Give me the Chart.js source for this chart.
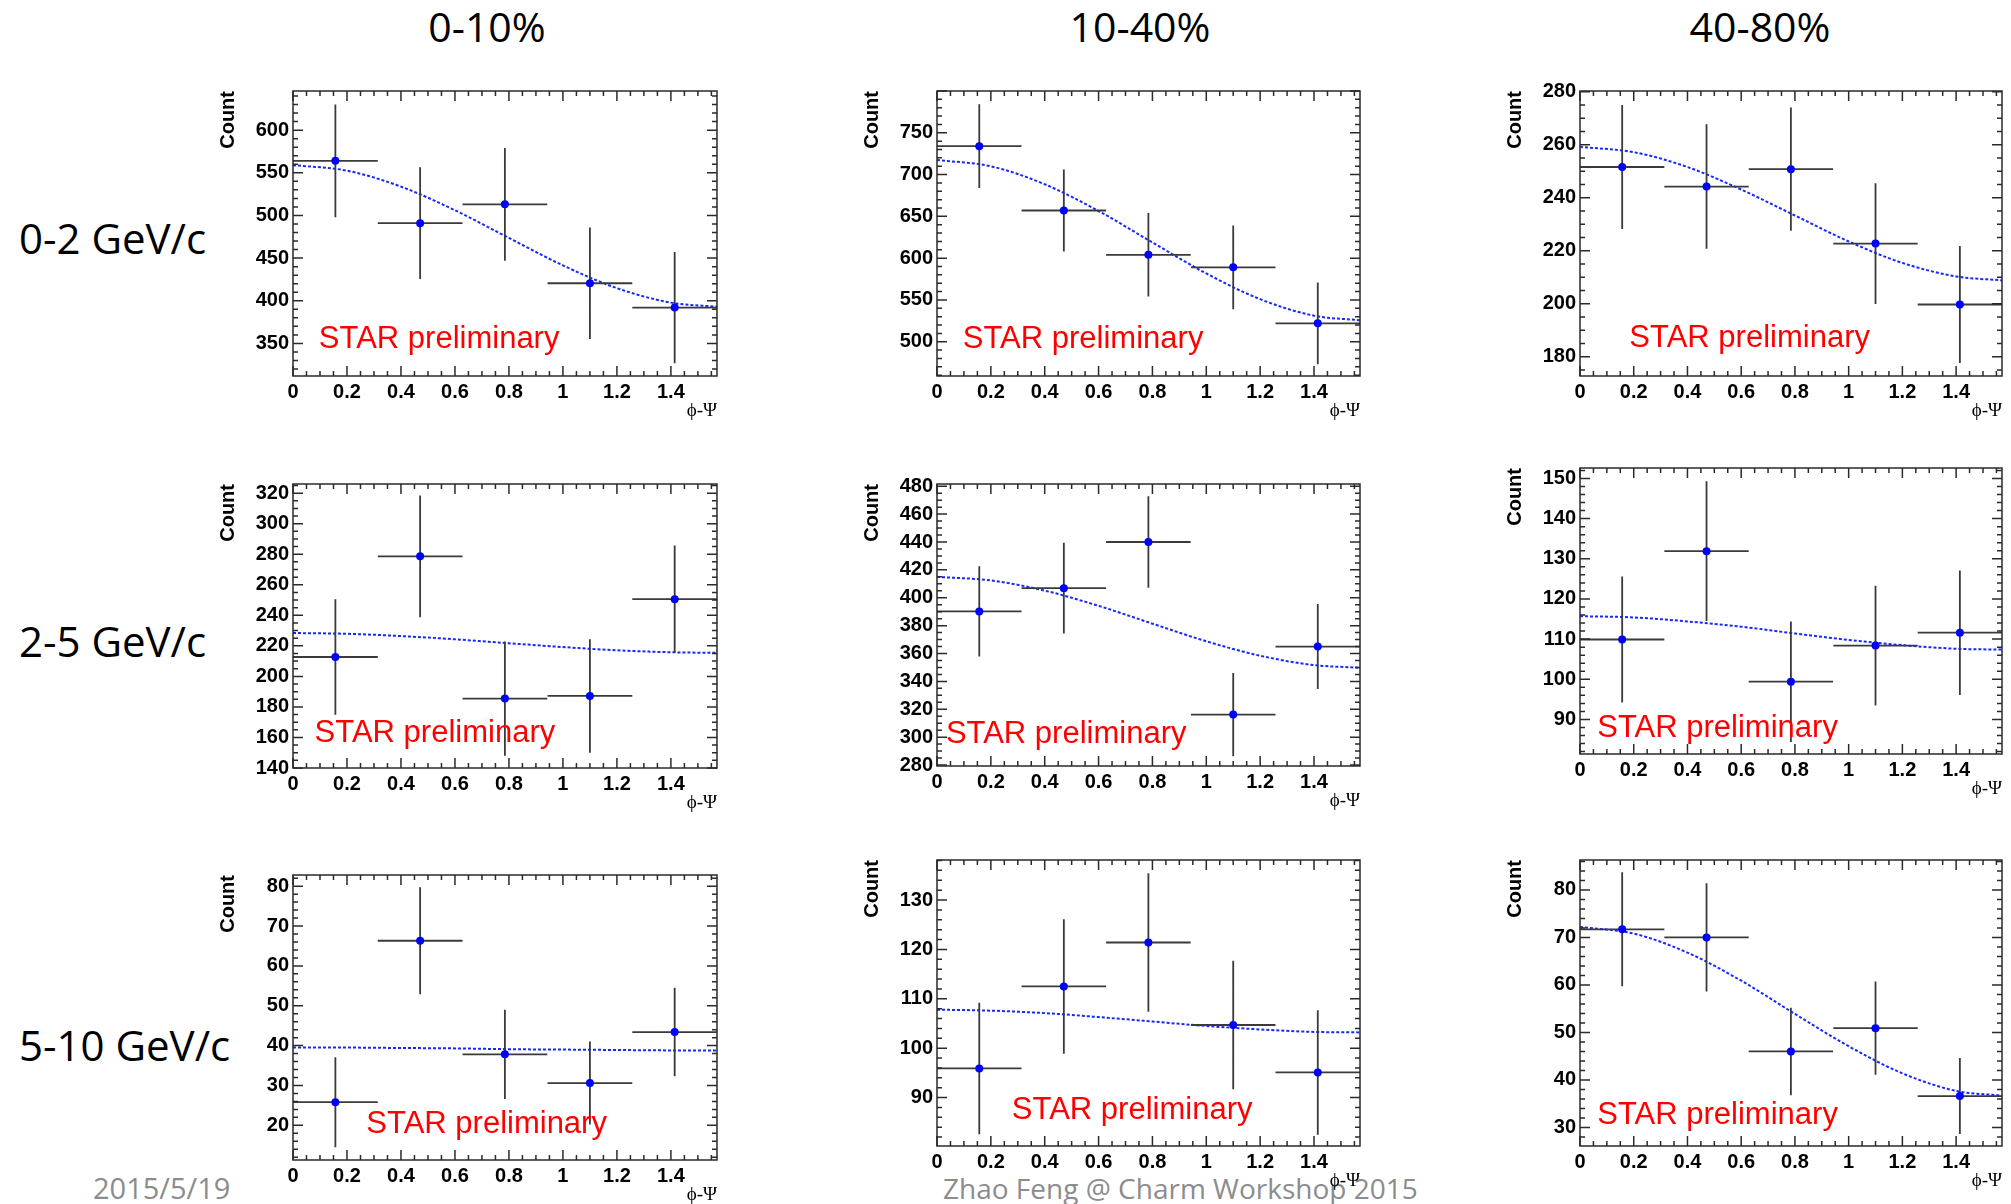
<!DOCTYPE html>
<html>
<head>
<meta charset="utf-8">
<script src="https://cdn.jsdelivr.net/npm/chart.js@4.4.1/dist/chart.umd.min.js"></script>
<style>
  body { margin: 0; width: 2011px; height: 1204px; background: #fff; overflow: hidden; position: relative; font-family: "Open Sans", sans-serif; }
  .col-title { position: absolute; top: 0; font-size: 41px; line-height: 52px; transform: translateX(-50%); white-space: nowrap; }
  .row-title { position: absolute; left: 19px; font-size: 42px; line-height: 52px; white-space: nowrap; }
  .footer { position: absolute; top: 1168px; line-height: 40px; color: #8c8c8c; white-space: nowrap; }
  canvas { position: absolute; }
</style>
</head>
<body>
<div id="page"></div>
<script>
// ---- data ----
const centralities = ["0-10%", "10-40%", "40-80%"];
const ptBins = ["0-2 GeV/c", "2-5 GeV/c", "5-10 GeV/c"];
const phiCenters = [0.157, 0.471, 0.785, 1.100, 1.414];
const phiHalfBin = 0.157;
const phiMax = 1.5708;
const phiTicks = [0, 0.2, 0.4, 0.6, 0.8, 1.0, 1.2, 1.4];
const fitPhi = [0, 0.2, 0.4, 0.6, 0.8, 1.0, 1.2, 1.4, 1.5708];

// pT 0-2 GeV/c
const counts_pt02_c0010 = [564, 491, 513, 420.5, 392];
const errs_pt02_c0010 = [66, 65.5, 66, 65.4, 65.2];
const fit_pt02_c0010 = [559, 552.5, 533.8, 506.1, 473.6, 441.5, 414.8, 397.8, 393];
const yTicks_pt02_c0010 = [350, 400, 450, 500, 550, 600];

const counts_pt02_c1040 = [734, 657, 604, 589, 522];
const errs_pt02_c1040 = [50, 49, 50, 50, 49];
const fit_pt02_c1040 = [717.5, 709.9, 688.4, 656.4, 618.8, 581.7, 550.9, 531.2, 525.7];
const yTicks_pt02_c1040 = [500, 550, 600, 650, 700, 750];

const counts_pt02_c4080 = [251.6, 244.2, 250.8, 222.7, 199.7];
const errs_pt02_c4080 = [23.4, 23.5, 23.3, 22.8, 22.1];
const fit_pt02_c4080 = [259.2, 257.2, 251.6, 243.1, 233.3, 223.5, 215.4, 210.3, 208.8];
const yTicks_pt02_c4080 = [180, 200, 220, 240, 260, 280];

// pT 2-5 GeV/c
const counts_pt25_c0010 = [212.7, 278.6, 185.5, 187.2, 250.6];
const errs_pt25_c0010 = [37.8, 39.8, 37.4, 37.2, 35.2];
const fit_pt25_c0010 = [228.4, 227.9, 226.4, 224.3, 221.7, 219.2, 217.1, 215.8, 215.4];
const yTicks_pt25_c0010 = [140, 160, 180, 200, 220, 240, 260, 280, 300, 320];

const counts_pt25_c1040 = [390.2, 406.9, 440, 316.2, 365];
const errs_pt25_c1040 = [32.4, 32.6, 32.9, 29.9, 30.5];
const fit_pt25_c1040 = [415, 412.4, 405.1, 394.2, 381.4, 368.8, 358.4, 351.7, 349.8];
const yTicks_pt25_c1040 = [280, 300, 320, 340, 360, 380, 400, 420, 440, 460, 480];

const counts_pt25_c4080 = [109.9, 131.9, 99.4, 108.4, 111.6];
const errs_pt25_c4080 = [15.7, 17.4, 15, 14.9, 15.5];
const fit_pt25_c4080 = [115.7, 115.4, 114.4, 113.1, 111.4, 109.8, 108.5, 107.6, 107.4];
const yTicks_pt25_c4080 = [90, 100, 110, 120, 130, 140, 150];

// pT 5-10 GeV/c
const counts_pt510_c0010 = [25.8, 66.3, 37.8, 30.6, 43.4];
const errs_pt510_c0010 = [11.3, 13.4, 11.2, 10.4, 11.1];
const fit_pt510_c0010 = [39.5, 39.5, 39.4, 39.3, 39.1, 39.0, 38.9, 38.8, 38.8];
const yTicks_pt510_c0010 = [20, 30, 40, 50, 60, 70, 80];

const counts_pt510_c1040 = [95.9, 112.5, 121.4, 104.7, 95.1];
const errs_pt510_c1040 = [13.3, 13.6, 14, 13, 12.6];
const fit_pt510_c1040 = [107.8, 107.6, 107.1, 106.3, 105.4, 104.5, 103.8, 103.3, 103.2];
const yTicks_pt510_c1040 = [90, 100, 110, 120, 130];

const counts_pt510_c4080 = [71.7, 70, 46, 50.9, 36.6];
const errs_pt510_c4080 = [12, 11.4, 9.2, 9.8, 8];
const fit_pt510_c4080 = [72.2, 70.8, 66.8, 60.9, 53.9, 47.1, 41.4, 37.7, 36.7];
const yTicks_pt510_c4080 = [30, 40, 50, 60, 70, 80];

const yMins = [311.8, 459, 172.7, 140, 279.3, 81.4, 11.3, 80.2, 26.1];
const yMaxs = [645.9, 800, 280.3, 326, 481.6, 152.6, 82.8, 138.1, 86.3];

// ---- layout (not data) ----
// plot frame [left, top, width, height] in page pixels
const frames = [
  [293, 90, 424, 286], [937, 90, 423, 286], [1580, 90, 422, 286],
  [293, 483, 424, 285], [937, 483, 423, 283], [1580, 467, 422, 287],
  [293, 874, 424, 286], [937, 859, 423, 287], [1580, 859, 422, 287]
];
// "STAR preliminary" position as fraction of plot area (left, baseline)
const labelSpots = [
  [0.061, 0.902], [0.061, 0.901], [0.117, 0.897],
  [0.051, 0.908], [0.021, 0.918], [0.041, 0.942],
  [0.173, 0.907], [0.177, 0.907], [0.041, 0.923]
];
const yMinorDiv = [5, 5, 4, 4, 4, 5, 5, 5, 5];

const panels = [
  [counts_pt02_c0010, errs_pt02_c0010, fit_pt02_c0010, yTicks_pt02_c0010],
  [counts_pt02_c1040, errs_pt02_c1040, fit_pt02_c1040, yTicks_pt02_c1040],
  [counts_pt02_c4080, errs_pt02_c4080, fit_pt02_c4080, yTicks_pt02_c4080],
  [counts_pt25_c0010, errs_pt25_c0010, fit_pt25_c0010, yTicks_pt25_c0010],
  [counts_pt25_c1040, errs_pt25_c1040, fit_pt25_c1040, yTicks_pt25_c1040],
  [counts_pt25_c4080, errs_pt25_c4080, fit_pt25_c4080, yTicks_pt25_c4080],
  [counts_pt510_c0010, errs_pt510_c0010, fit_pt510_c0010, yTicks_pt510_c0010],
  [counts_pt510_c1040, errs_pt510_c1040, fit_pt510_c1040, yTicks_pt510_c1040],
  [counts_pt510_c4080, errs_pt510_c4080, fit_pt510_c4080, yTicks_pt510_c4080]
];

const page = document.getElementById("page");
const colCenters = [487, 1140, 1760];
const rowCenters = [238, 641, 1045];

centralities.forEach((c, i) => {
  const d = document.createElement("div");
  d.className = "col-title";
  d.style.left = colCenters[i] + "px";
  d.textContent = c;
  page.appendChild(d);
});
ptBins.forEach((p, i) => {
  const d = document.createElement("div");
  d.className = "row-title";
  d.style.top = (rowCenters[i] - 26) + "px";
  d.textContent = p;
  page.appendChild(d);
});
[["2015/5/19", 93, 29], ["Zhao Feng @ Charm Workshop 2015", 943, 28]].forEach(([t, x, fs]) => {
  const d = document.createElement("div");
  d.className = "footer";
  d.style.left = x + "px";
  d.style.fontSize = fs + "px";
  d.textContent = t;
  page.appendChild(d);
});

// ROOT-like frame with inward ticks on all four sides + the red label
const rootFrame = {
  id: "rootFrame",
  afterDraw(chart, args, opts) {
    const { ctx, chartArea: a, scales: { x, y } } = chart;
    ctx.save();
    ctx.strokeStyle = "#2a2a2a";
    ctx.lineWidth = 1.5;
    ctx.strokeRect(a.left, a.top, a.right - a.left, a.bottom - a.top);

    ctx.beginPath();
    // x ticks every 0.05, major every 0.2
    for (let k = 0; k * 0.05 <= phiMax + 1e-9; k++) {
      const px = x.getPixelForValue(k * 0.05);
      const len = k % 4 === 0 ? 10 : 5;
      ctx.moveTo(px, a.bottom); ctx.lineTo(px, a.bottom - len);
      ctx.moveTo(px, a.top); ctx.lineTo(px, a.top + len);
    }
    // y ticks
    const t = opts.yTicks;
    const step = t[1] - t[0];
    const sub = step / opts.minorDiv;
    let v = t[0] - Math.floor((t[0] - y.min) / sub + 1e-9) * sub;
    for (; v <= y.max + 1e-9; v += sub) {
      const py = y.getPixelForValue(v);
      const r = (v - t[0]) / step;
      const len = Math.abs(r - Math.round(r)) < 1e-6 ? 10 : 5;
      ctx.moveTo(a.left, py); ctx.lineTo(a.left + len, py);
      ctx.moveTo(a.right, py); ctx.lineTo(a.right - len, py);
    }
    ctx.stroke();
    ctx.restore();
  },
  afterDatasetsDraw(chart, args, opts) {
    const { ctx, chartArea: a } = chart;
    ctx.save();
    ctx.fillStyle = "#ff0000";
    ctx.font = '31px "Liberation Sans", Arial, sans-serif';
    ctx.textBaseline = "alphabetic";
    ctx.fillText("STAR preliminary",
      a.left + opts.spot[0] * (a.right - a.left),
      a.top + opts.spot[1] * (a.bottom - a.top));
    ctx.restore();
  }
};

function errorBarData(counts, errs) {
  const pts = [];
  phiCenters.forEach((xc, i) => {
    pts.push({ x: xc, y: counts[i] - errs[i] }, { x: xc, y: counts[i] + errs[i] }, { x: xc, y: null });
    pts.push({ x: xc - phiHalfBin, y: counts[i] }, { x: xc + phiHalfBin, y: counts[i] }, { x: xc, y: null });
  });
  return pts;
}

const tickFont = { family: '"Liberation Sans", Arial, sans-serif', size: 20, weight: "bold" };

panels.forEach(([counts, errs, fit, yTicks], i) => {
  const [fl, ft, fw, fh] = frames[i];
  const cv = document.createElement("canvas");
  cv.width = fw + 110;
  cv.height = fh + 65;
  cv.style.left = (fl - 90) + "px";
  cv.style.top = (ft - 15) + "px";
  page.appendChild(cv);

  new Chart(cv.getContext("2d"), {
    type: "scatter",
    data: {
      datasets: [
        {
          data: phiCenters.map((xc, k) => ({ x: xc, y: counts[k] })),
          pointRadius: 4,
          pointBackgroundColor: "#0000ff",
          pointBorderWidth: 0,
          order: 0
        },
        {
          data: errorBarData(counts, errs),
          showLine: true,
          spanGaps: false,
          borderColor: "#3a3a3a",
          borderWidth: 1.8,
          pointRadius: 0,
          order: 1
        },
        {
          data: fitPhi.map((xv, k) => ({ x: xv, y: fit[k] })),
          showLine: true,
          borderColor: "#1428ff",
          borderWidth: 2,
          borderDash: [3, 2],
          cubicInterpolationMode: "monotone",
          pointRadius: 0,
          order: 2
        }
      ]
    },
    options: {
      responsive: false,
      animation: false,
      events: [],
      layout: { padding: { top: 15, right: 20, left: 0, bottom: 0 } },
      plugins: {
        legend: { display: false },
        tooltip: { enabled: false },
        rootFrame: { yTicks, minorDiv: yMinorDiv[i], spot: labelSpots[i] }
      },
      scales: {
        x: {
          type: "linear",
          min: 0,
          max: phiMax,
          grid: { display: false, drawTicks: false },
          border: { display: false },
          afterBuildTicks: s => { s.ticks = phiTicks.map(v => ({ value: v })); },
          afterFit: s => { s.height = 50; },
          ticks: {
            padding: 4, color: "#000", font: tickFont, maxRotation: 0, autoSkip: false,
            callback: v => String(Math.round(v * 10) / 10)
          },
          title: {
            display: true, text: "ϕ-Ψ", align: "end", color: "#000",
            font: { family: '"Liberation Serif", "DejaVu Serif", serif', size: 19 },
            padding: { top: 0, bottom: 4 }
          }
        },
        y: {
          min: yMins[i],
          max: yMaxs[i],
          grid: { display: false, drawTicks: false },
          border: { display: false },
          afterBuildTicks: s => { s.ticks = yTicks.map(v => ({ value: v })); },
          afterFit: s => { s.width = 90; },
          ticks: { padding: 4, color: "#000", font: tickFont },
          title: {
            display: true, text: "Count", align: "end", color: "#000",
            font: { family: '"Liberation Sans", Arial, sans-serif', size: 20, weight: "bold" },
            padding: { top: 13, bottom: 0 }
          }
        }
      }
    },
    plugins: [rootFrame]
  });
});
</script>
</body>
</html>
